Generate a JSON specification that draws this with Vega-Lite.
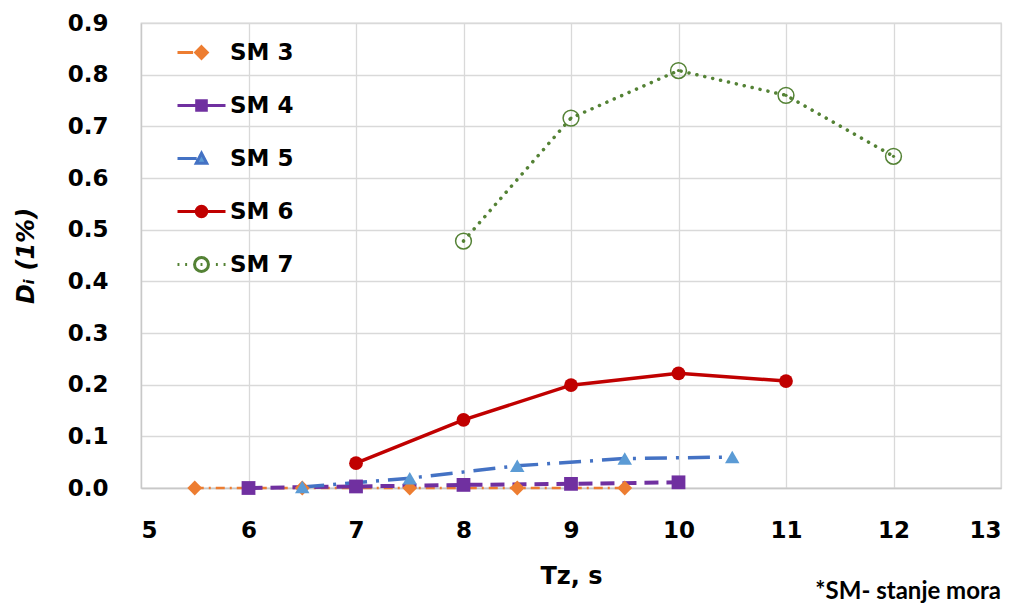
{
  "$schema": "https://vega.github.io/schema/vega-lite/v6.json",
  "width": 860,
  "height": 465,
  "autosize": {"type": "none"},
  "padding": {"left": 141, "top": 23, "right": 18, "bottom": 115},
  "background": "white",
  "title": {
    "text": "*SM- stanje mora",
    "orient": "bottom",
    "anchor": "end",
    "frame": "group",
    "offset": -8,
    "font": "Lato",
    "fontSize": 24,
    "fontWeight": "bold",
    "color": "#000000"
  },
  "config": {
    "view": {"stroke": "#D9D9D9", "strokeWidth": 1.3},
    "axis": {
      "labelFont": "DejaVu Sans",
      "labelFontSize": 23,
      "labelFontWeight": "bold",
      "labelColor": "#000000",
      "titleFont": "DejaVu Sans",
      "titleFontSize": 24,
      "titleFontWeight": "bold",
      "titleColor": "#000000",
      "gridColor": "#D9D9D9",
      "gridWidth": 1.3,
      "domainColor": "#C8C8C8",
      "domainWidth": 1.3,
      "ticks": false,
      "tickSize": 0
    }
  },
  "data": {
    "values": [
      {"series": "SM 3", "tz": 5.5, "d": 0.0},
      {"series": "SM 3", "tz": 6.5, "d": 0.0},
      {"series": "SM 3", "tz": 7.5, "d": 0.0},
      {"series": "SM 3", "tz": 8.5, "d": 0.0},
      {"series": "SM 3", "tz": 9.5, "d": 0.0},
      {"series": "SM 4", "tz": 6, "d": 0.0},
      {"series": "SM 4", "tz": 7, "d": 0.003},
      {"series": "SM 4", "tz": 8, "d": 0.006},
      {"series": "SM 4", "tz": 9, "d": 0.008},
      {"series": "SM 4", "tz": 10, "d": 0.011},
      {"series": "SM 5", "tz": 6.5, "d": 0.002},
      {"series": "SM 5", "tz": 7.5, "d": 0.019},
      {"series": "SM 5", "tz": 8.5, "d": 0.043},
      {"series": "SM 5", "tz": 9.5, "d": 0.057},
      {"series": "SM 5", "tz": 10.5, "d": 0.06},
      {"series": "SM 6", "tz": 7, "d": 0.048},
      {"series": "SM 6", "tz": 8, "d": 0.132},
      {"series": "SM 6", "tz": 9, "d": 0.199},
      {"series": "SM 6", "tz": 10, "d": 0.222},
      {"series": "SM 6", "tz": 11, "d": 0.207},
      {"series": "SM 7", "tz": 8, "d": 0.478},
      {"series": "SM 7", "tz": 9, "d": 0.716},
      {"series": "SM 7", "tz": 10, "d": 0.808},
      {"series": "SM 7", "tz": 11, "d": 0.76},
      {"series": "SM 7", "tz": 12, "d": 0.642}
    ]
  },
  "encoding": {
    "x": {
      "field": "tz",
      "type": "quantitative",
      "scale": {"domain": [5, 13], "nice": false, "zero": false},
      "axis": {
        "title": "Tz, s",
        "values": [5, 6, 7, 8, 9, 10, 11, 12, 13],
        "format": "d",
        "labelPadding": 31,
        "titlePadding": 22,
        "grid": true
      }
    },
    "y": {
      "field": "d",
      "type": "quantitative",
      "scale": {"domain": [0, 0.9], "nice": false},
      "axis": {
        "title": "Dᵢ (1%)",
        "titleFontStyle": "italic",
        "values": [0, 0.1, 0.2, 0.3, 0.4, 0.5, 0.6, 0.7, 0.8, 0.9],
        "format": ".1f",
        "labelPadding": 33,
        "titlePadding": 29,
        "grid": true
      }
    }
  },
  "layer": [
    {
      "transform": [{"filter": "datum.series === 'SM 3'"}],
      "mark": {"type": "line", "color": "#ED7D31", "strokeWidth": 2.5, "strokeDash": [9, 5, 2, 5]}
    },
    {
      "transform": [{"filter": "datum.series === 'SM 4'"}],
      "mark": {"type": "line", "color": "#7030A0", "strokeWidth": 4, "strokeDash": [14, 8]}
    },
    {
      "transform": [{"filter": "datum.series === 'SM 5'"}],
      "mark": {"type": "line", "color": "#4472C4", "strokeWidth": 3.5, "strokeDash": [22, 9, 3, 9]}
    },
    {
      "transform": [{"filter": "datum.series === 'SM 6'"}],
      "mark": {"type": "line", "color": "#C00000", "strokeWidth": 3.5}
    },
    {
      "transform": [{"filter": "datum.series === 'SM 7'"}],
      "mark": {"type": "line", "color": "#548235", "strokeWidth": 3.5, "strokeDash": [0.1, 8], "strokeCap": "round"}
    },
    {
      "transform": [{"filter": "datum.series === 'SM 3'"}],
      "mark": {"type": "point", "shape": "diamond", "filled": true, "color": "#ED7D31", "size": 220, "opacity": 1}
    },
    {
      "transform": [{"filter": "datum.series === 'SM 5'"}],
      "mark": {"type": "point", "shape": "triangle-up", "filled": true, "color": "#5B9BD5", "size": 210, "opacity": 1}
    },
    {
      "transform": [{"filter": "datum.series === 'SM 4'"}],
      "mark": {"type": "point", "shape": "square", "filled": true, "color": "#7030A0", "size": 190, "opacity": 1}
    },
    {
      "transform": [{"filter": "datum.series === 'SM 6'"}],
      "mark": {"type": "point", "shape": "circle", "filled": true, "color": "#C00000", "size": 190, "opacity": 1}
    },
    {
      "transform": [{"filter": "datum.series === 'SM 7'"}],
      "mark": {"type": "point", "shape": "circle", "filled": false, "color": "#548235", "strokeWidth": 1.5, "size": 250, "opacity": 1}
    },
    {
      "transform": [{"filter": "datum.series === 'SM 7'"}],
      "mark": {"type": "point", "shape": "circle", "filled": true, "color": "#548235", "size": 10, "opacity": 1}
    },
    {
      "transform": [{"filter": "datum.series === 'none'"}],
      "mark": {"type": "point", "filled": true, "size": 2304, "opacity": 1, "strokeWidth": 3},
      "encoding": {
        "fill": {
          "field": "series",
          "type": "nominal",
          "scale": {
            "domain": ["SM 3", "SM 4", "SM 5", "SM 6", "SM 7"],
            "range": ["#ED7D31", "#7030A0", "#5B9BD5", "#C00000", "transparent"]
          },
          "legend": {"title": null}
        },
        "stroke": {
          "field": "series",
          "type": "nominal",
          "scale": {
            "domain": ["SM 3", "SM 4", "SM 5", "SM 6", "SM 7"],
            "range": ["#ED7D31", "#7030A0", "#4472C4", "#C00000", "#548235"]
          },
          "legend": {"title": null}
        },
        "shape": {
          "field": "series",
          "type": "nominal",
          "scale": {
            "domain": ["SM 3", "SM 4", "SM 5", "SM 6", "SM 7"],
            "range": [
              "M-1,0H-0.35M0,-0.24L0.24,0L0,0.24L-0.24,0Z",
              "M-1,0H1M-0.2,-0.2H0.2V0.2H-0.2Z",
              "M-1,0H-0.2M0,-0.22L0.22,0.2H-0.22Z",
              "M-1,0H1M-0.22,0A0.22,0.22 0 1,0 0.22,0A0.22,0.22 0 1,0 -0.22,0Z",
              "M-1,0h0.08M-0.68,0h0.08M0.6,0h0.08M0.92,0h0.08M-0.29,0A0.29,0.29 0 1,0 0.29,0A0.29,0.29 0 1,0 -0.29,0ZM-0.04,0h0.08"
            ]
          },
          "legend": {
            "title": null,
            "orient": "none",
            "legendX": 35,
            "legendY": 4,
            "padding": 0,
            "symbolSize": 2304,
            "symbolStrokeWidth": 3,
            "symbolOpacity": 1,
            "rowPadding": 15,
            "labelOffset": 3,
            "labelFont": "DejaVu Sans",
            "labelFontSize": 23,
            "labelFontWeight": "bold",
            "labelColor": "#000000",
            "labelLimit": 300
          }
        }
      }
    }
  ]
}
